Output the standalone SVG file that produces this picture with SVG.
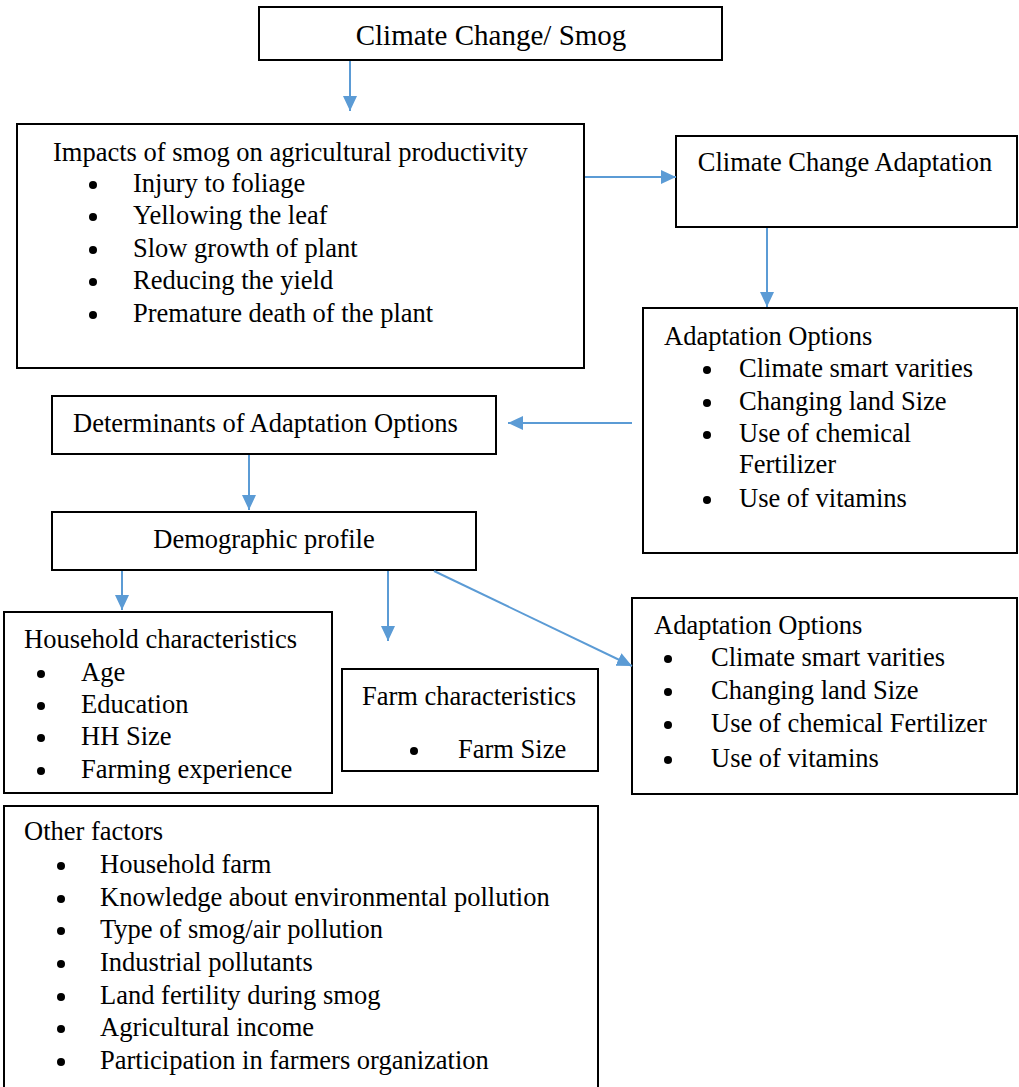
<svg xmlns="http://www.w3.org/2000/svg" width="1019" height="1087" viewBox="0 0 1019 1087">
<style>
.box{fill:#fff;stroke:#000;stroke-width:2}
text{font-family:"Liberation Serif","Times New Roman",serif;font-size:26.5px;fill:#000}
.title{font-size:29px}
.b{fill:#000}
.c{stroke:#5B9BD5;stroke-width:2;fill:none}
</style>
<defs>
<marker id="ah" markerUnits="userSpaceOnUse" markerWidth="16" markerHeight="16" viewBox="0 0 16 16" refX="15" refY="8" orient="auto">
<path d="M0,1 L15,8 L0,15 Z" fill="#5B9BD5"/>
</marker>
</defs>
<rect width="1019" height="1087" fill="#fff"/>

<g id="n-climate">
<rect class="box" x="259" y="7" width="463" height="53"/>
<text class="title" x="491" y="45" text-anchor="middle">Climate Change/ Smog</text>
</g>

<g id="n-impacts">
<rect class="box" x="17" y="124" width="567" height="244"/>
<text x="53" y="161">Impacts of smog on agricultural productivity</text>
<circle class="b" cx="93" cy="185" r="4"/><text x="133" y="192">Injury to foliage</text>
<circle class="b" cx="93" cy="217" r="4"/><text x="133" y="224">Yellowing the leaf</text>
<circle class="b" cx="93" cy="250" r="4"/><text x="133" y="257">Slow growth of plant</text>
<circle class="b" cx="93" cy="282" r="4"/><text x="133" y="289">Reducing the yield</text>
<circle class="b" cx="93" cy="315" r="4"/><text x="133" y="322">Premature death of the plant</text>
</g>

<g id="n-cca">
<rect class="box" x="676" y="136" width="341" height="91"/>
<text x="845" y="171" text-anchor="middle">Climate Change Adaptation</text>
</g>

<g id="n-adapt1">
<rect class="box" x="643" y="308" width="374" height="245"/>
<text x="664" y="345">Adaptation Options</text>
<circle class="b" cx="707" cy="370" r="4"/><text x="739" y="377">Climate smart varities</text>
<circle class="b" cx="707" cy="403" r="4"/><text x="739" y="410">Changing land Size</text>
<circle class="b" cx="707" cy="435" r="4"/><text x="739" y="442">Use of chemical</text>
<text x="739" y="473">Fertilizer</text>
<circle class="b" cx="707" cy="500" r="4"/><text x="739" y="507">Use of vitamins</text>
</g>

<g id="n-determinants">
<rect class="box" x="52" y="396" width="444" height="58"/>
<text x="73" y="432">Determinants of Adaptation Options</text>
</g>

<g id="n-demographic">
<rect class="box" x="52" y="512" width="424" height="58"/>
<text x="264" y="548" text-anchor="middle">Demographic profile</text>
</g>

<g id="n-household">
<rect class="box" x="4" y="612" width="328" height="181"/>
<text x="24" y="648">Household characteristics</text>
<circle class="b" cx="41" cy="674" r="4"/><text x="81" y="681">Age</text>
<circle class="b" cx="41" cy="706" r="4"/><text x="81" y="713">Education</text>
<circle class="b" cx="41" cy="738" r="4"/><text x="81" y="745">HH Size</text>
<circle class="b" cx="41" cy="771" r="4"/><text x="81" y="778">Farming experience</text>
</g>

<g id="n-farm">
<rect class="box" x="342" y="669" width="256" height="102"/>
<text x="362" y="705">Farm characteristics</text>
<circle class="b" cx="414" cy="751" r="4"/><text x="458" y="758">Farm Size</text>
</g>

<g id="n-adapt2">
<rect class="box" x="632" y="598" width="385" height="196"/>
<text x="654" y="634">Adaptation Options</text>
<circle class="b" cx="668" cy="659" r="4"/><text x="711" y="666">Climate smart varities</text>
<circle class="b" cx="668" cy="692" r="4"/><text x="711" y="699">Changing land Size</text>
<circle class="b" cx="668" cy="725" r="4"/><text x="711" y="732">Use of chemical Fertilizer</text>
<circle class="b" cx="668" cy="760" r="4"/><text x="711" y="767">Use of vitamins</text>
</g>

<g id="n-other">
<rect class="box" x="4" y="806" width="594" height="300"/>
<text x="24" y="840">Other factors</text>
<circle class="b" cx="61" cy="866" r="4"/><text x="100" y="873">Household farm</text>
<circle class="b" cx="61" cy="899" r="4"/><text x="100" y="906">Knowledge about environmental pollution</text>
<circle class="b" cx="61" cy="931" r="4"/><text x="100" y="938">Type of smog/air pollution</text>
<circle class="b" cx="61" cy="964" r="4"/><text x="100" y="971">Industrial pollutants</text>
<circle class="b" cx="61" cy="997" r="4"/><text x="100" y="1004">Land fertility during smog</text>
<circle class="b" cx="61" cy="1029" r="4"/><text x="100" y="1036">Agricultural income</text>
<circle class="b" cx="61" cy="1062" r="4"/><text x="100" y="1069">Participation in farmers organization</text>
</g>

<g id="connectors">
<line class="c" x1="350" y1="61" x2="350" y2="111" marker-end="url(#ah)"/>
<line class="c" x1="585" y1="177" x2="676" y2="177" marker-end="url(#ah)"/>
<line class="c" x1="767" y1="228" x2="767" y2="307" marker-end="url(#ah)"/>
<line class="c" x1="632" y1="423" x2="508" y2="423" marker-end="url(#ah)"/>
<line class="c" x1="249" y1="455" x2="249" y2="510" marker-end="url(#ah)"/>
<line class="c" x1="122" y1="571" x2="122" y2="610" marker-end="url(#ah)"/>
<line class="c" x1="388" y1="571" x2="388" y2="641" marker-end="url(#ah)"/>
<line class="c" x1="434" y1="571" x2="632" y2="666" marker-end="url(#ah)"/>
</g>
</svg>
